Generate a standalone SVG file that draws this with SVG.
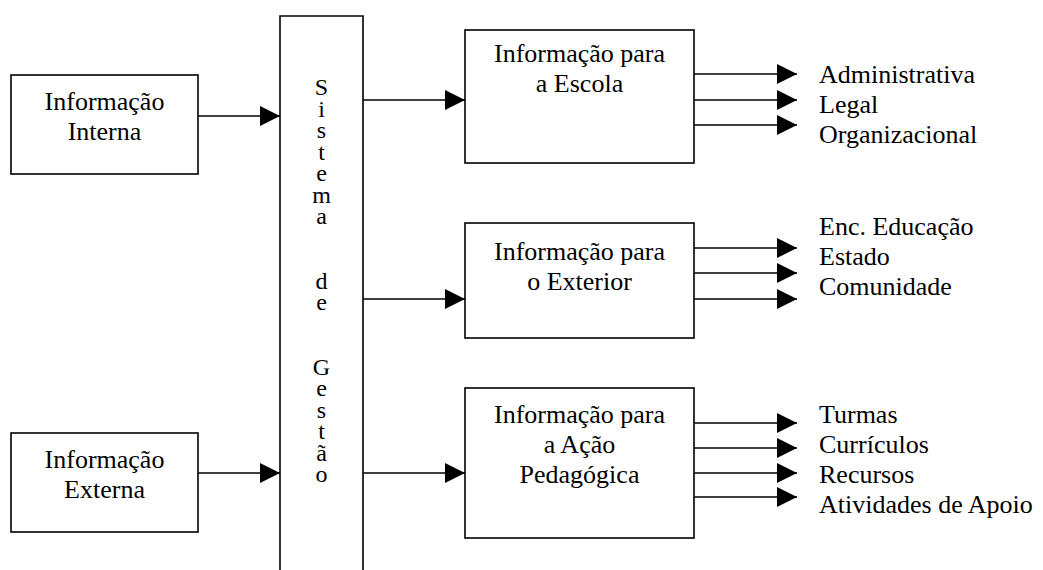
<svg xmlns="http://www.w3.org/2000/svg" width="1043" height="570" viewBox="0 0 1043 570">
<defs>
<style>
.box{fill:#fff;stroke:#000;stroke-width:1.6}
.t{font-family:"Liberation Serif","Times New Roman",serif;font-size:26px;fill:#000}
.c{text-anchor:middle}
.v{font-family:"Liberation Serif","Times New Roman",serif;font-size:24px;fill:#000;text-anchor:middle}
.ln{stroke:#000;stroke-width:1.6;fill:none}
</style>
<marker id="ah" markerUnits="userSpaceOnUse" markerWidth="20" markerHeight="20" refX="20" refY="10" orient="auto">
<path d="M0,0 L20,10 L0,20 z" fill="#000"/>
</marker>
</defs>
<rect width="1043" height="570" fill="#fff"/>

<g id="connectors">
<line class="ln" x1="198" y1="116" x2="280" y2="116" marker-end="url(#ah)"/>
<line class="ln" x1="198" y1="473" x2="280" y2="473" marker-end="url(#ah)"/>
<line class="ln" x1="363" y1="100" x2="465" y2="100" marker-end="url(#ah)"/>
<line class="ln" x1="363" y1="299" x2="465" y2="299" marker-end="url(#ah)"/>
<line class="ln" x1="363" y1="473" x2="465" y2="473" marker-end="url(#ah)"/>
<line class="ln" x1="694" y1="74" x2="797" y2="74" marker-end="url(#ah)"/>
<line class="ln" x1="694" y1="100" x2="797" y2="100" marker-end="url(#ah)"/>
<line class="ln" x1="694" y1="125" x2="797" y2="125" marker-end="url(#ah)"/>
<line class="ln" x1="694" y1="248" x2="797" y2="248" marker-end="url(#ah)"/>
<line class="ln" x1="694" y1="273" x2="797" y2="273" marker-end="url(#ah)"/>
<line class="ln" x1="694" y1="299" x2="797" y2="299" marker-end="url(#ah)"/>
<line class="ln" x1="694" y1="423" x2="797" y2="423" marker-end="url(#ah)"/>
<line class="ln" x1="694" y1="448" x2="797" y2="448" marker-end="url(#ah)"/>
<line class="ln" x1="694" y1="473" x2="797" y2="473" marker-end="url(#ah)"/>
<line class="ln" x1="694" y1="497" x2="797" y2="497" marker-end="url(#ah)"/>
</g>

<g id="interna">
<rect class="box" x="11" y="75" width="187" height="99"/>
<text class="t c" x="104.5" y="110">Informação</text>
<text class="t c" x="104.5" y="140">Interna</text>
</g>

<g id="externa">
<rect class="box" x="11" y="433" width="187" height="99"/>
<text class="t c" x="104.5" y="468">Informação</text>
<text class="t c" x="104.5" y="498">Externa</text>
</g>

<g id="sistema">
<path class="ln" d="M280,572 L280,16 L363,16 L363,572"/>
<text class="v" x="321.5" y="95"><tspan x="321.5" y="95">S</tspan><tspan x="321.5" y="116.5">i</tspan><tspan x="321.5" y="138">s</tspan><tspan x="321.5" y="159.5">t</tspan><tspan x="321.5" y="181">e</tspan><tspan x="321.5" y="202.5">m</tspan><tspan x="321.5" y="224">a</tspan><tspan x="321.5" y="288.5">d</tspan><tspan x="321.5" y="310">e</tspan><tspan x="321.5" y="374.5">G</tspan><tspan x="321.5" y="396">e</tspan><tspan x="321.5" y="417.5">s</tspan><tspan x="321.5" y="439">t</tspan><tspan x="321.5" y="460.5">ã</tspan><tspan x="321.5" y="482">o</tspan></text>
</g>

<g id="escola">
<rect class="box" x="465" y="30" width="229" height="133"/>
<text class="t c" x="579.5" y="62">Informação para</text>
<text class="t c" x="579.5" y="92">a Escola</text>
</g>

<g id="exterior">
<rect class="box" x="465" y="223" width="229" height="115"/>
<text class="t c" x="579.5" y="260">Informação para</text>
<text class="t c" x="579.5" y="290">o Exterior</text>
</g>

<g id="acao">
<rect class="box" x="465" y="388" width="229" height="150"/>
<text class="t c" x="579.5" y="423">Informação para</text>
<text class="t c" x="579.5" y="453">a Ação</text>
<text class="t c" x="579.5" y="483">Pedagógica</text>
</g>

<g id="outputs">
<text class="t" x="819" y="83">Administrativa</text>
<text class="t" x="819" y="113">Legal</text>
<text class="t" x="819" y="143">Organizacional</text>
<text class="t" x="819" y="235">Enc. Educação</text>
<text class="t" x="819" y="265">Estado</text>
<text class="t" x="819" y="295">Comunidade</text>
<text class="t" x="819" y="423">Turmas</text>
<text class="t" x="819" y="453">Currículos</text>
<text class="t" x="819" y="483">Recursos</text>
<text class="t" x="819" y="513">Atividades de Apoio</text>
</g>
</svg>
